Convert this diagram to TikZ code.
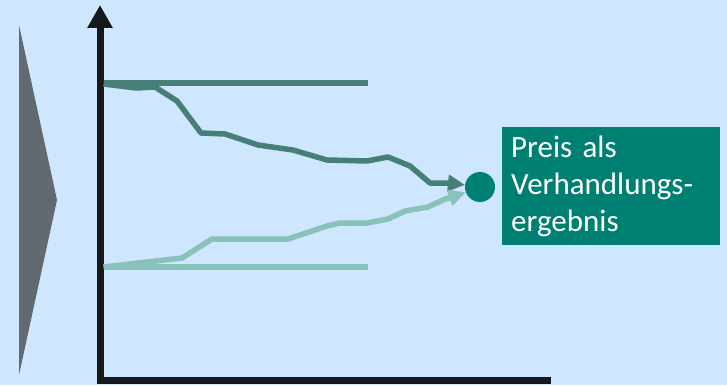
\documentclass[tikz,border=0pt]{standalone}
\usepackage{fontspec}
\setmainfont{Carlito}
\usetikzlibrary{arrows.meta,positioning}
\definecolor{bgblue}{RGB}{207,231,254}
\definecolor{wedgegray}{RGB}{98,105,112}
\definecolor{axisblack}{RGB}{22,25,28}
\definecolor{sellteal}{RGB}{70,126,120}
\definecolor{buyteal}{RGB}{137,193,187}
\definecolor{dealteal}{RGB}{0,128,115}

\begin{document}
\begin{tikzpicture}[x=1pt,y=-1pt,
    axis/.style={draw=axisblack,line width=7pt,line join=miter},
    pricepath/.style={line width=5.5pt,line join=round,
      -{Triangle[length=17pt,width=16pt]}},
    limit/.style={line width=5.5pt}]
  \fill[bgblue] (0,0) rectangle (727,385);
  \useasboundingbox (0,0) rectangle (727,385);
  \fill[wedgegray] (19,25) -- (57,200) -- (19,375) -- cycle;
  \coordinate (ytop) at (100,5);
  \coordinate (origin) at (100,380.5);
  \coordinate (xend) at (551,380.5);
  \draw[axis,{Triangle[length=23pt,width=24pt]}-] (ytop) -- (origin) -- (xend);
  \node[circle,fill=dealteal,minimum size=30pt,inner sep=0pt] (deal) at (480,187) {};
  \node[anchor=north west,fill=dealteal,text=white,minimum width=218pt,
    minimum height=118pt,text width=200pt,inner xsep=9pt,inner ysep=6pt,align=left,
    font=\fontsize{31}{37}\selectfont] (result) at (502,127)
    {Preis als\\Verhandlungs-\\ergebnis};
  \draw[limit,sellteal] (103.5,83) -- (368,83);
  \draw[limit,buyteal] (103.5,267) -- (368,267);
  \draw[pricepath,sellteal] (103.5,84) -- (136,88) -- (155,87) -- (177,101) -- (201,133)
    -- (225,134) -- (258,145) -- (293,150) -- (327,160) -- (367,161) -- (388,157)
    -- (410,166) -- (430,183) -- (447,183) -- (deal.172);
  \draw[pricepath,buyteal] (103.5,267) -- (182,258) -- (212,239) -- (253,239) -- (288,239)
    -- (327,226) -- (340,223) -- (367,223) -- (388,219) -- (405,211) -- (428,207)
    -- (443,200) -- (deal.200);
\end{tikzpicture}
\end{document}
